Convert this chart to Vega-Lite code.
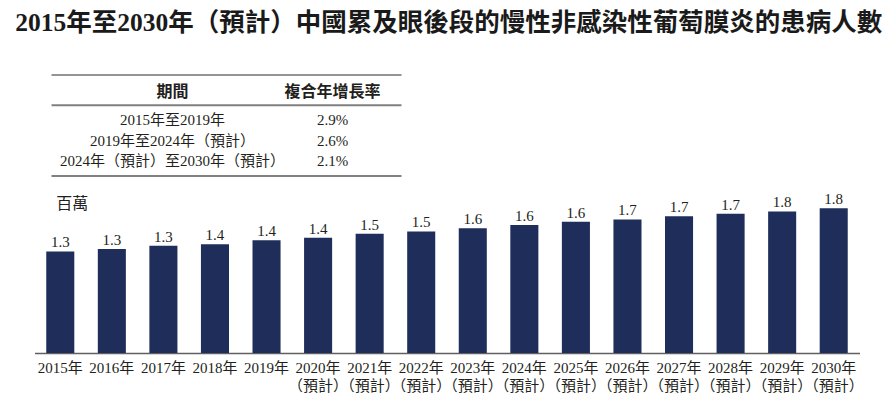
{
  "$schema": "https://vega.github.io/schema/vega-lite/v6.json",
  "background": "white",
  "padding": {"left": 14.5, "top": 10, "right": 5, "bottom": 5},
  "title": {
    "text": "2015年至2030年（預計）中國累及眼後段的慢性非感染性葡萄膜炎的患病人數",
    "fontSize": 25.5,
    "font": "Liberation Serif, Noto Sans CJK TC",
    "fontWeight": "bold",
    "color": "#1a1a1a",
    "anchor": "middle",
    "offset": 38
  },
  "config": {
    "view": {"stroke": null},
    "font": "Liberation Serif, Noto Sans CJK TC"
  },
  "spacing": 15,
  "vconcat": [
    {
      "width": 367,
      "height": 101,
      "data": {"values": [
        {"slot": "header", "period": "期間", "cagr": "複合年增長率"},
        {"slot": "r1", "period": "2015年至2019年", "cagr": "2.9%"},
        {"slot": "r2", "period": "2019年至2024年（預計）", "cagr": "2.6%"},
        {"slot": "r3", "period": "2024年（預計）至2030年（預計）", "cagr": "2.1%"}
      ]},
      "encoding": {
        "y": {"field": "slot", "type": "ordinal", "scale": {"type": "point", "padding": 0, "domain": ["top", "s1", "s2", "header", "s4", "s5", "mid", "s7", "s8", "r1", "s10", "s11", "s12", "r2", "s14", "s15", "s16", "r3", "s18", "s19", "bottom"]}, "axis": null}
      },
      "layer": [
        {
          "data": {"values": [{"slot": "top"}, {"slot": "mid"}, {"slot": "bottom"}]},
          "mark": {"type": "rule"},
          "encoding": {
            "x": {"datum": "period", "type": "nominal", "bandPosition": 0, "scale": {"type": "band", "paddingInner": 0, "paddingOuter": 0, "domain": ["period", "cagr"], "range": [17, 367]}, "axis": null},
            "x2": {"datum": "cagr", "bandPosition": 1},
            "strokeWidth": {"condition": {"test": "datum.slot === 'top'", "value": 1.1}, "value": 2},
            "color": {"condition": {"test": "datum.slot === 'top'", "value": "#2a2a2a"}, "value": "#808080"}
          }
        },
        {
          "transform": [{"filter": "datum.slot === 'header'"}],
          "mark": {"type": "text", "fontSize": 16, "fontWeight": "bold", "color": "#231f20", "baseline": "middle", "dy": 2},
          "encoding": {
            "x": {"datum": "period", "type": "nominal", "bandPosition": 0.691},
            "text": {"field": "period"}
          }
        },
        {
          "transform": [{"filter": "datum.slot === 'header'"}],
          "mark": {"type": "text", "fontSize": 16, "fontWeight": "bold", "color": "#231f20", "baseline": "middle", "dy": 2},
          "encoding": {
            "x": {"datum": "cagr", "type": "nominal", "bandPosition": 0.606},
            "text": {"field": "cagr"}
          }
        },
        {
          "transform": [{"filter": "datum.slot !== 'header'"}],
          "mark": {"type": "text", "fontSize": 15, "color": "#231f20", "baseline": "middle"},
          "encoding": {
            "x": {"datum": "period", "type": "nominal", "bandPosition": 0.691},
            "text": {"field": "period"}
          }
        },
        {
          "transform": [{"filter": "datum.slot !== 'header'"}],
          "mark": {"type": "text", "fontSize": 15, "color": "#231f20", "baseline": "middle"},
          "encoding": {
            "x": {"datum": "cagr", "type": "nominal", "bandPosition": 0.606},
            "text": {"field": "cagr"}
          }
        }
      ]
    },
    {
      "width": 825,
      "height": 160,
      "data": {"values": [
        {"year": "2015年", "value": 1.27},
        {"year": "2016年", "value": 1.30},
        {"year": "2017年", "value": 1.34},
        {"year": "2018年", "value": 1.36},
        {"year": "2019年", "value": 1.41},
        {"year": "2020年（預計）", "value": 1.44},
        {"year": "2021年（預計）", "value": 1.49},
        {"year": "2022年（預計）", "value": 1.52},
        {"year": "2023年（預計）", "value": 1.56},
        {"year": "2024年（預計）", "value": 1.60},
        {"year": "2025年（預計）", "value": 1.64},
        {"year": "2026年（預計）", "value": 1.67},
        {"year": "2027年（預計）", "value": 1.71},
        {"year": "2028年（預計）", "value": 1.74},
        {"year": "2029年（預計）", "value": 1.77},
        {"year": "2030年（預計）", "value": 1.81}
      ]},
      "encoding": {
        "x": {
          "field": "year", "type": "ordinal", "sort": null,
          "scale": {"paddingInner": 0.456, "paddingOuter": 0.228},
          "axis": {
            "title": null, "labelAngle": 0, "ticks": false,
            "domainColor": "#606060", "domainWidth": 1.5,
            "labelFontSize": 15, "labelColor": "#231f20", "labelPadding": 7,
            "labelLineHeight": 18, "labelOverlap": false, "labelBound": false,
            "labelExpr": "length(datum.label) > 5 ? [substring(datum.label, 0, 5), substring(datum.label, 5)] : datum.label"
          }
        },
        "y": {
          "field": "value", "type": "quantitative",
          "scale": {"domain": [0, 2], "nice": false},
          "axis": null
        }
      },
      "layer": [
        {"mark": {"type": "bar", "color": "#1f2d5a"}},
        {"mark": {"type": "text", "dy": -4, "baseline": "alphabetic", "fontSize": 15, "color": "#231f20"},
         "encoding": {"text": {"field": "value", "type": "quantitative", "format": ".1f"}}},
        {
          "transform": [{"filter": "datum.year === '2015年'"}],
          "mark": {"type": "text", "align": "left", "baseline": "middle", "fontSize": 16, "color": "#231f20", "dx": -4, "dy": 11},
          "encoding": {
            "y": {"datum": 2},
            "text": {"value": "百萬"}
          }
        }
      ]
    }
  ]
}
